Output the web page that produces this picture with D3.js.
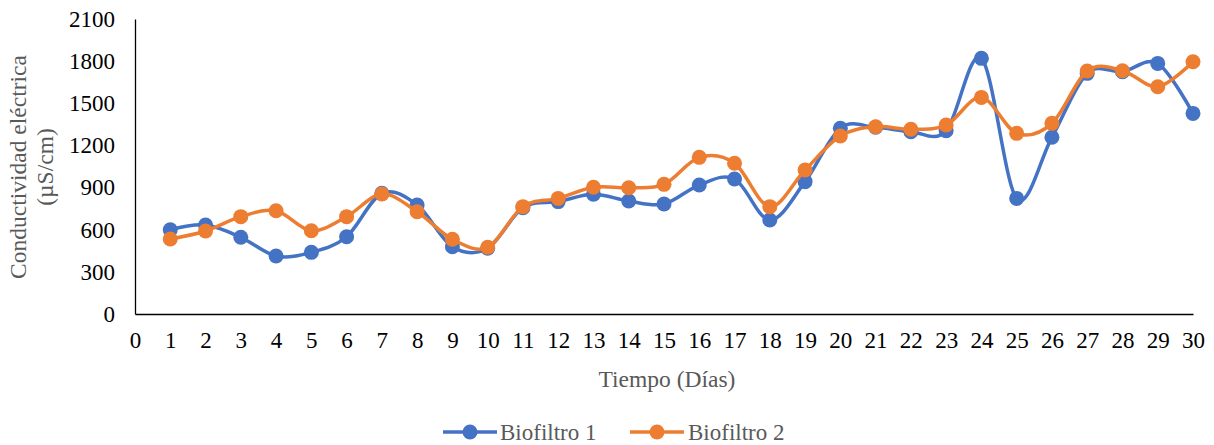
<!DOCTYPE html>
<html>
<head>
<meta charset="utf-8">
<script src="https://cdn.jsdelivr.net/npm/d3@7"></script>
<style>
  html, body { margin: 0; padding: 0; background: #fff; }
  svg { display: block; }
  svg text { font-family: "Liberation Serif", "Times New Roman", serif; }
</style>
</head>
<body>
<svg id="chart" width="1214" height="445"></svg>
<script>
// Days of measurement
const days = d3.range(1, 31);
// Electrical conductivity (µS/cm) per biofilter
const biofiltro1 = [600, 633, 546, 413, 439, 550, 859, 776, 479, 468,
                    757, 800, 852, 804, 783, 918, 961, 669, 942, 1322,
                    1329, 1298, 1305, 1820, 823, 1258, 1713, 1725, 1784, 1428];
const biofiltro2 = [534, 591, 693, 735, 593, 693, 854, 728, 532, 475,
                    764, 823, 902, 899, 923, 1115, 1073, 764, 1025, 1267,
                    1333, 1315, 1345, 1542, 1286, 1357, 1730, 1732, 1618, 1796];
const xTicks = d3.range(0, 31);
const yTicks = [0, 300, 600, 900, 1200, 1500, 1800, 2100];
const seriesNames = ["Biofiltro 1", "Biofiltro 2"];
const seriesColors = ["#4472C4", "#ED7D31"];

const svg = d3.select("#chart");
const plotLeft = 135, plotRight = 1193, plotTop = 19, plotBottom = 314;

const x = d3.scaleLinear().domain([0, 30]).range([plotLeft, plotRight]);
const y = d3.scaleLinear().domain([0, 2100]).range([plotBottom, plotTop]);

// Axes
const yAxis = d3.axisLeft(y).tickValues(yTicks).tickFormat(d3.format("d"))
  .tickSize(0).tickPadding(20);
const gy = svg.append("g").attr("transform", `translate(${plotLeft},0)`).call(yAxis);
gy.attr("font-family", null);
gy.select(".domain").attr("stroke", "#000").attr("stroke-width", 1.3);
gy.selectAll("text").attr("font-size", 23).attr("fill", "#000");

const xAxis = d3.axisBottom(x).tickValues(xTicks).tickFormat(d3.format("d"))
  .tickSize(0).tickPadding(18);
const gx = svg.append("g").attr("transform", `translate(0,${plotBottom})`).call(xAxis);
gx.attr("font-family", null);
gx.select(".domain").attr("stroke", "#000").attr("stroke-width", 1.3);
gx.selectAll("text").attr("font-size", 23).attr("fill", "#000");

// Axis titles
const yTitle = svg.append("text")
  .attr("transform", `translate(26,167) rotate(-90)`)
  .attr("text-anchor", "middle")
  .attr("font-size", 23.5)
  .attr("fill", "#595959");
yTitle.append("tspan").attr("x", 0).attr("dy", 0).text("Conductividad eléctrica");
yTitle.append("tspan").attr("x", 0).attr("dy", 27).text("(µS/cm)");

svg.append("text")
  .attr("x", 667).attr("y", 387)
  .attr("text-anchor", "middle")
  .attr("font-size", 23.5)
  .attr("fill", "#595959")
  .text("Tiempo (Días)");

// Series lines and markers
const line = d3.line()
  .x((d, i) => x(days[i]))
  .y(d => y(d))
  .curve(d3.curveCardinal.tension(0));

[biofiltro1, biofiltro2].forEach((vals, k) => {
  const g = svg.append("g");
  g.append("path")
    .datum(vals)
    .attr("d", line)
    .attr("fill", "none")
    .attr("stroke", seriesColors[k])
    .attr("stroke-width", 3.5)
    .attr("stroke-linejoin", "round");
  g.selectAll("circle")
    .data(vals)
    .join("circle")
    .attr("cx", (d, i) => x(days[i]))
    .attr("cy", d => y(d))
    .attr("r", 7.5)
    .attr("fill", seriesColors[k]);
});

// Legend
const legendItems = [{x0: 443, tx: 500}, {x0: 630, tx: 688}];
const legendY = 432;
legendItems.forEach((it, k) => {
  const g = svg.append("g");
  g.append("line")
    .attr("x1", it.x0).attr("x2", it.x0 + 54)
    .attr("y1", legendY).attr("y2", legendY)
    .attr("stroke", seriesColors[k]).attr("stroke-width", 3.5);
  g.append("circle")
    .attr("cx", it.x0 + 27).attr("cy", legendY).attr("r", 7.5)
    .attr("fill", seriesColors[k]);
  g.append("text")
    .attr("x", it.tx).attr("y", legendY)
    .attr("dominant-baseline", "central")
    .attr("font-size", 23)
    .attr("fill", "#595959")
    .text(seriesNames[k]);
});
</script>
</body>
</html>
